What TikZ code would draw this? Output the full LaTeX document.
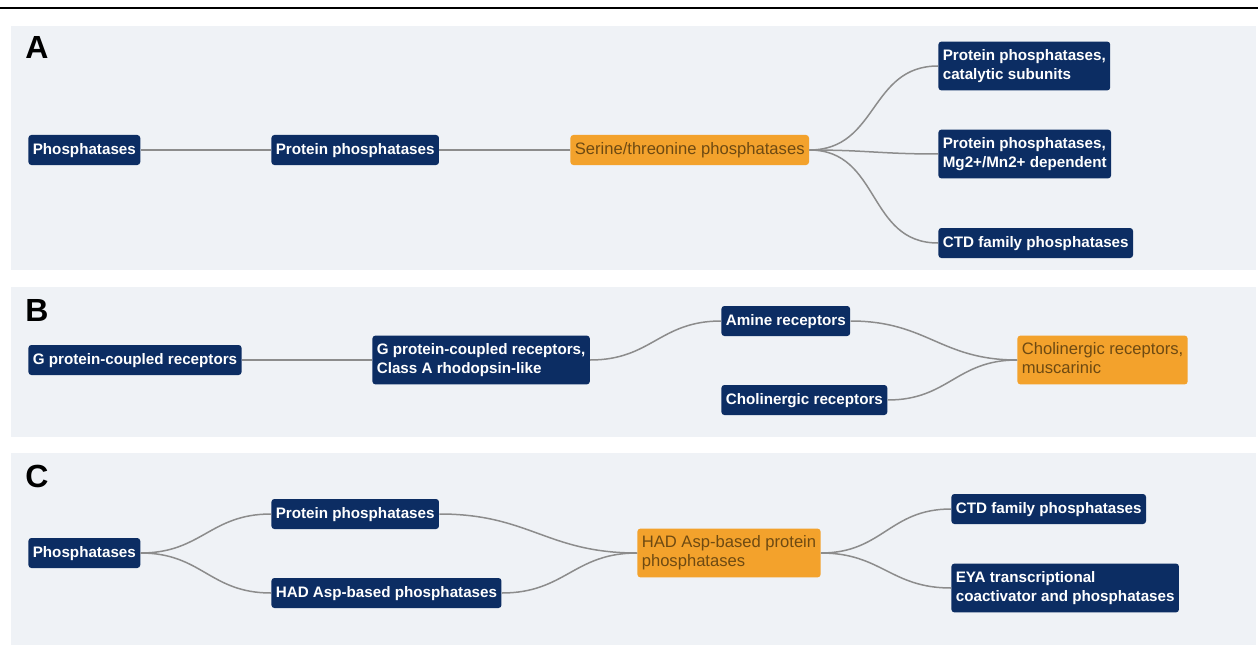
\documentclass[tikz,border=0pt]{standalone}
\usepackage{fontspec}
\setmainfont{Liberation Sans}

\definecolor{navy}{HTML}{0C2D63}
\definecolor{amber}{HTML}{F3A22C}
\definecolor{amberink}{HTML}{6E4A12}
\definecolor{panel}{HTML}{EFF2F6}
\definecolor{wire}{HTML}{8C8C8C}

\begin{document}
\begin{tikzpicture}[x=0.5pt,y=-0.5pt,
  every node/.style={anchor=west, rounded corners=1.5pt, inner xsep=2.2pt, inner ysep=3.6pt, align=left,
    font=\fontsize{7.6}{9.4}\selectfont\bfseries, text height=6pt, text depth=1.8pt},
  term/.style={fill=navy, text=white},
  hit/.style={fill=amber, text=amberink, font=\fontsize{8.3}{9.4}\selectfont},
  twoline/.style={text height=15.4pt},
  tag/.style={anchor=base west, inner sep=0pt, font=\fontsize{16}{16}\selectfont\bfseries, text height=, text depth=},
  link/.style={draw=wire, line width=0.75pt, out=0, in=180, looseness=1.15}]
\useasboundingbox (0,0) rectangle (1258,647);

\draw[line width=0.8pt] (0,8) -- (1258,8);
\fill[panel] (11,26) rectangle (1256,270);
\fill[panel] (11,287) rectangle (1256,437);
\fill[panel] (11,453) rectangle (1256,645);

% A
\node[tag] (la) at (25,59) {A};
\node[term] (a1) at (28,150) {Phosphatases};
\node[term] (a2) at (271,150) {Protein phosphatases};
\node[hit] (a3) at (570,150) {Serine/threonine phosphatases};
\node[term, twoline] (a4) at (938,66) {Protein phosphatases,\\catalytic subunits};
\node[term, twoline] (a5) at (938,154) {Protein phosphatases,\\Mg2+/Mn2+ dependent};
\node[term] (a6) at (938,243) {CTD family phosphatases};

\draw[link] (a1.east) to (a2.west);
\draw[link] (a2.east) to (a3.west);
\draw[link] (a3.east) to (a4.west);
\draw[link] (a3.east) to (a5.west);
\draw[link] (a3.east) to (a6.west);

% B
\node[tag] (lb) at (25,321) {B};
\node[term] (b1) at (28,360) {G protein-coupled receptors};
\node[term, twoline] (b2) at (372,360) {G protein-coupled receptors,\\Class A rhodopsin-like};
\node[term] (b3) at (721,321) {Amine receptors};
\node[term] (b4) at (721,400) {Cholinergic receptors};
\node[hit, twoline] (b5) at (1017,360) {Cholinergic receptors,\\muscarinic};

\draw[link] (b1.east) to (b2.west);
\draw[link] (b2.east) to (b3.west);
\draw[link] (b3.east) to (b5.west);
\draw[link] (b4.east) to (b5.west);

% C
\node[tag] (lc) at (25,487) {C};
\node[term] (c1) at (28,553) {Phosphatases};
\node[term] (c2) at (271,514) {Protein phosphatases};
\node[term] (c3) at (271,593) {HAD Asp-based phosphatases};
\node[hit, twoline] (c4) at (637,553) {HAD Asp-based protein\\phosphatases};
\node[term] (c5) at (951,509) {CTD family phosphatases};
\node[term, twoline] (c6) at (951,588) {EYA transcriptional\\coactivator and phosphatases};

\draw[link] (c1.east) to (c2.west);
\draw[link] (c1.east) to (c3.west);
\draw[link] (c2.east) to (c4.west);
\draw[link] (c3.east) to (c4.west);
\draw[link] (c4.east) to (c5.west);
\draw[link] (c4.east) to (c6.west);
\end{tikzpicture}
\end{document}
